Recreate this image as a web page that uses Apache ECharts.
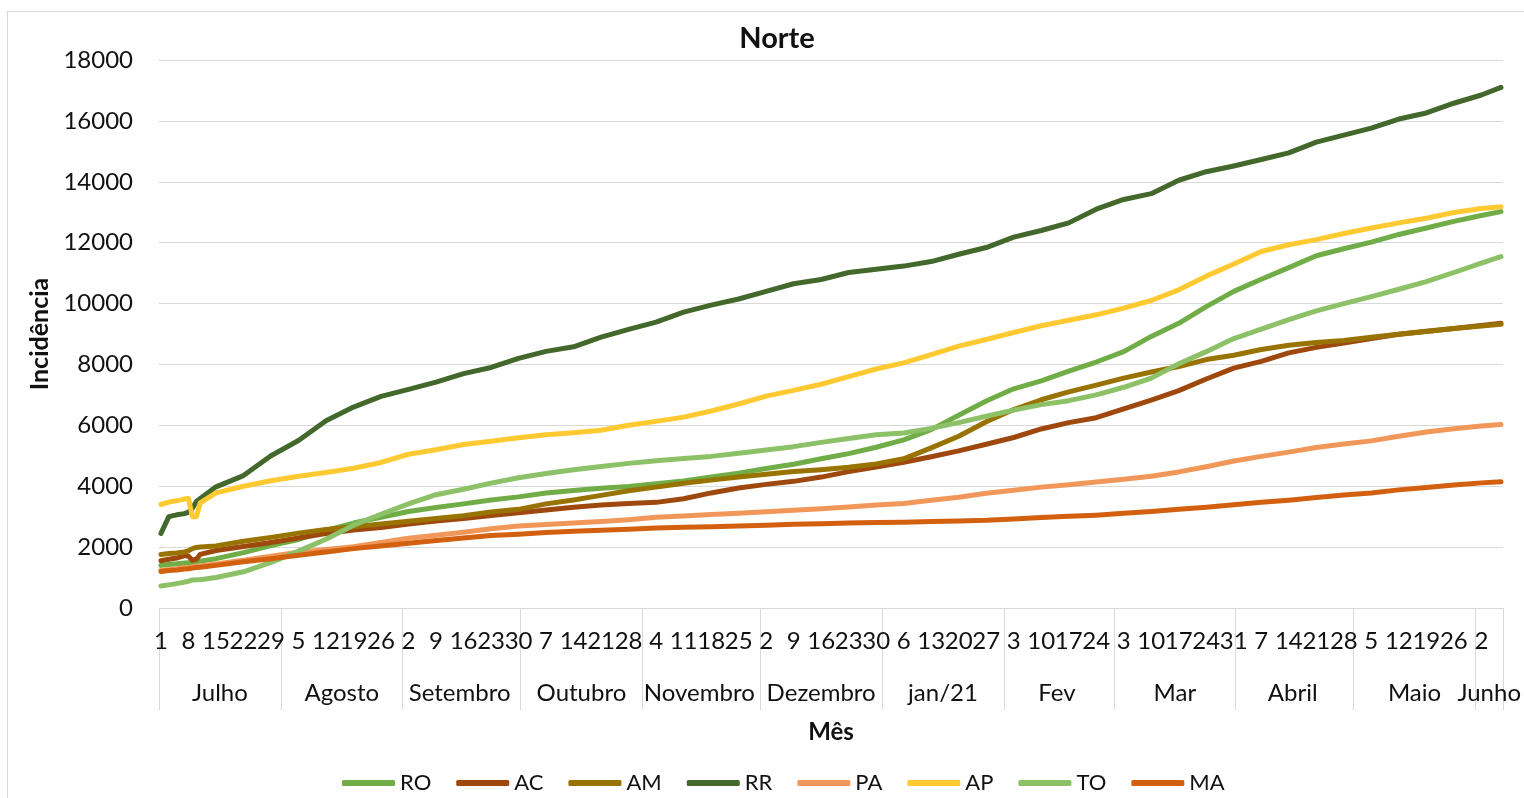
<!DOCTYPE html>
<html>
<head>
<meta charset="utf-8">
<title>Norte</title>
<script src="https://cdn.jsdelivr.net/npm/echarts@6/dist/echarts.min.js"></script>
<style>
  html, body { margin: 0; padding: 0; background: #fff; overflow: hidden; }
  #frame { position: absolute; left: 7px; top: 11px; width: 1600px; height: 900px; border: 1px solid #d9d9d9; box-sizing: border-box; }
  #chart { position: absolute; left: 0; top: 0; width: 1524px; height: 798px; }
</style>
</head>
<body>
<div id="frame"></div>
<div id="chart"></div>
<script>
// Months covered by the daily series (July 2020 to early June 2021)
const monthNames = ['Julho', 'Agosto', 'Setembro', 'Outubro', 'Novembro', 'Dezembro',
                    'jan/21', 'Fev', 'Mar', 'Abril', 'Maio', 'Junho'];
const monthLengths = [31, 31, 30, 31, 30, 31, 31, 28, 31, 30, 31, 7];

// Day indices (0 = 1 July) where each series was read
const sampleDay = [0, 2, 4, 6, 7, 8, 9, 10,
  14, 21, 28, 35, 42, 49, 56, 63, 70, 77, 84, 91, 98, 105, 112, 119, 126, 133,
  140, 147, 154, 161, 168, 175, 182, 189, 196, 203, 210, 217, 224, 231, 238,
  245, 252, 259, 266, 273, 280, 287, 294, 301, 308, 315, 322, 329, 336, 341];

const RO = [1400, 1430, 1450, 1480, 1490, 1500, 1520, 1540,
  1620, 1820, 2050, 2250, 2550, 2790, 2980, 3170, 3300, 3420, 3550, 3650, 3780, 3860,
  3930, 3990, 4080, 4170, 4300, 4430, 4580, 4720, 4900, 5070, 5280, 5520, 5860, 6330,
  6800, 7200, 7460, 7780, 8080, 8420, 8920, 9350, 9900, 10400, 10800, 11180, 11570,
  11800, 12020, 12270, 12480, 12700, 12890, 13020];
const AC = [1550, 1600, 1640, 1720, 1700, 1570, 1600, 1760,
  1890, 2020, 2150, 2300, 2450, 2560, 2640, 2760, 2860, 2940, 3040, 3130, 3220, 3310,
  3380, 3430, 3470, 3590, 3780, 3940, 4060, 4160, 4300, 4480, 4630, 4790, 4970, 5160,
  5380, 5600, 5880, 6090, 6250, 6540, 6830, 7140, 7520, 7880, 8100, 8380, 8560,
  8700, 8850, 8990, 9090, 9180, 9280, 9350];
const AM = [1760, 1790, 1810, 1840, 1880, 1950, 1990, 2000,
  2040, 2190, 2320, 2460, 2580, 2670, 2760, 2850, 2940, 3030, 3150, 3240, 3420, 3550,
  3700, 3850, 3970, 4100, 4200, 4300, 4390, 4480, 4540, 4620, 4730, 4900, 5260, 5640,
  6120, 6520, 6840, 7100, 7320, 7550, 7750, 7930, 8160, 8300, 8490, 8630, 8720,
  8790, 8890, 8990, 9080, 9180, 9260, 9320];
const RR = [2450, 3000, 3060, 3100, 3150, 3280, 3500, 3600,
  3980, 4350, 5000, 5500, 6150, 6600, 6950, 7180, 7420, 7700, 7900, 8200, 8430, 8580,
  8900, 9150, 9390, 9720, 9950, 10150, 10400, 10650, 10790, 11020, 11130, 11230, 11380, 11620,
  11840, 12180, 12400, 12650, 13100, 13420, 13610, 14050, 14330, 14520, 14730, 14950, 15300,
  15530, 15760, 16060, 16260, 16580, 16850, 17100];
const PA = [1230, 1260, 1290, 1320, 1330, 1350, 1370, 1380,
  1450, 1570, 1700, 1830, 1920, 2010, 2150, 2290, 2390, 2490, 2600, 2690, 2740, 2790,
  2840, 2900, 2980, 3020, 3070, 3110, 3160, 3210, 3260, 3320, 3380, 3430, 3540, 3640,
  3770, 3870, 3970, 4050, 4140, 4230, 4330, 4470, 4640, 4830, 4980, 5120, 5270,
  5390, 5490, 5640, 5780, 5890, 5980, 6030];
const AP = [3400, 3480, 3520, 3580, 3600, 3000, 3000, 3450,
  3780, 4000, 4180, 4330, 4450, 4590, 4780, 5050, 5200, 5370, 5480, 5590, 5690, 5760,
  5840, 6000, 6130, 6270, 6470, 6700, 6960, 7150, 7350, 7600, 7850, 8050, 8320, 8600,
  8820, 9050, 9270, 9450, 9630, 9850, 10100, 10450, 10900, 11300, 11710, 11930, 12100,
  12300, 12480, 12650, 12800, 12990, 13120, 13180];
const TO = [720, 760, 800, 850, 880, 920, 930, 930,
  1000, 1190, 1500, 1870, 2260, 2720, 3080, 3420, 3720, 3900, 4100, 4280, 4420, 4540,
  4650, 4750, 4840, 4910, 4980, 5080, 5190, 5300, 5440, 5570, 5690, 5750, 5900, 6090,
  6300, 6500, 6680, 6810, 7000, 7250, 7550, 8020, 8420, 8850, 9160, 9470, 9760,
  10000, 10230, 10470, 10720, 11020, 11330, 11540];
const MA = [1200, 1230, 1250, 1280, 1290, 1310, 1330, 1340,
  1400, 1520, 1620, 1730, 1840, 1950, 2040, 2130, 2220, 2300, 2380, 2420, 2480, 2520,
  2550, 2590, 2630, 2650, 2670, 2690, 2720, 2750, 2770, 2790, 2810, 2820, 2840, 2860,
  2880, 2920, 2970, 3010, 3050, 3110, 3170, 3240, 3310, 3390, 3470, 3540, 3630,
  3710, 3780, 3880, 3960, 4040, 4110, 4150];

const seriesNames = ['RO', 'AC', 'AM', 'RR', 'PA', 'AP', 'TO', 'MA'];
const seriesValues = [RO, AC, AM, RR, PA, AP, TO, MA];
const seriesColors = ['#70AD47', '#9E480E', '#997300', '#43682B', '#F1975A', '#FFC932', '#8CC168', '#D2600F'];

// Day-of-month category labels plus month grouping
const dayLabels = [];
const monthRow = [];
const monthStarts = new Set();
const monthMids = new Set();
monthLengths.forEach(function (len, m) {
  const start = dayLabels.length;
  monthStarts.add(start);
  const mid = start + Math.floor((len - 1) / 2);
  monthMids.add(mid);
  for (let d = 1; d <= len; d++) {
    dayLabels.push(String(d));
    monthRow.push(start + d - 1 === mid ? monthNames[m] : '');
  }
});

const FONT = 'Lato, "Liberation Sans", sans-serif';
const TXT = '#111';

const chart = echarts.init(document.getElementById('chart'), null, { renderer: 'canvas' });
chart.setOption({
  animation: false,
  backgroundColor: 'transparent',
  title: {
    text: 'Norte', left: 772, top: 19, textAlign: 'center',
    textStyle: { fontFamily: FONT, fontSize: 29, fontWeight: 'bold', color: TXT }
  },
  legend: {
    data: seriesNames, top: 767, left: 337, itemWidth: 53, itemHeight: 6, itemGap: 25,
    icon: 'roundRect',
    textStyle: { fontFamily: FONT, fontSize: 22, color: TXT }
  },
  grid: { left: 159, right: 19, top: 60, bottom: 190 },
  xAxis: [{
    type: 'category', data: dayLabels, boundaryGap: true,
    axisLine: { lineStyle: { color: '#d9d9d9', width: 1 } },
    axisTick: { show: true, length: 102, interval: function (i) { return monthStarts.has(i); },
                lineStyle: { color: '#d9d9d9', width: 1 } },
    axisLabel: { interval: function (i) { return i % 7 === 0; }, margin: 21,
                 fontFamily: FONT, fontSize: 24, color: TXT },
    splitLine: { show: false },
    name: 'Mês', nameLocation: 'middle', nameGap: 112,
    nameTextStyle: { fontFamily: FONT, fontSize: 24, fontWeight: 'bold', color: TXT }
  }, {
    type: 'category', data: monthRow, boundaryGap: true, position: 'bottom',
    axisLine: { show: false }, axisTick: { show: false }, splitLine: { show: false },
    axisLabel: { interval: function (i) { return monthMids.has(i); }, margin: 73,
                 fontFamily: FONT, fontSize: 24, color: TXT }
  }],
  yAxis: {
    type: 'value', min: 0, max: 18000, interval: 2000,
    axisLine: { show: false }, axisTick: { show: false },
    splitLine: { lineStyle: { color: '#d9d9d9', width: 1 } },
    axisLabel: { margin: 26, fontFamily: FONT, fontSize: 24, color: TXT,
                 formatter: function (v) { return String(v); } },
    name: 'Incidência', nameLocation: 'middle', nameGap: 103,
    nameTextStyle: { fontFamily: FONT, fontSize: 25, fontWeight: 'bold', color: TXT }
  },
  series: seriesNames.map(function (name, s) {
    return {
      name: name, type: 'line', xAxisIndex: 0, symbol: 'none', smooth: false,
      color: seriesColors[s],
      lineStyle: { width: 5, color: seriesColors[s], cap: 'round', join: 'round' },
      data: sampleDay.map(function (d, i) { return [d, seriesValues[s][i]]; })
    };
  })
});
</script>
</body>
</html>
